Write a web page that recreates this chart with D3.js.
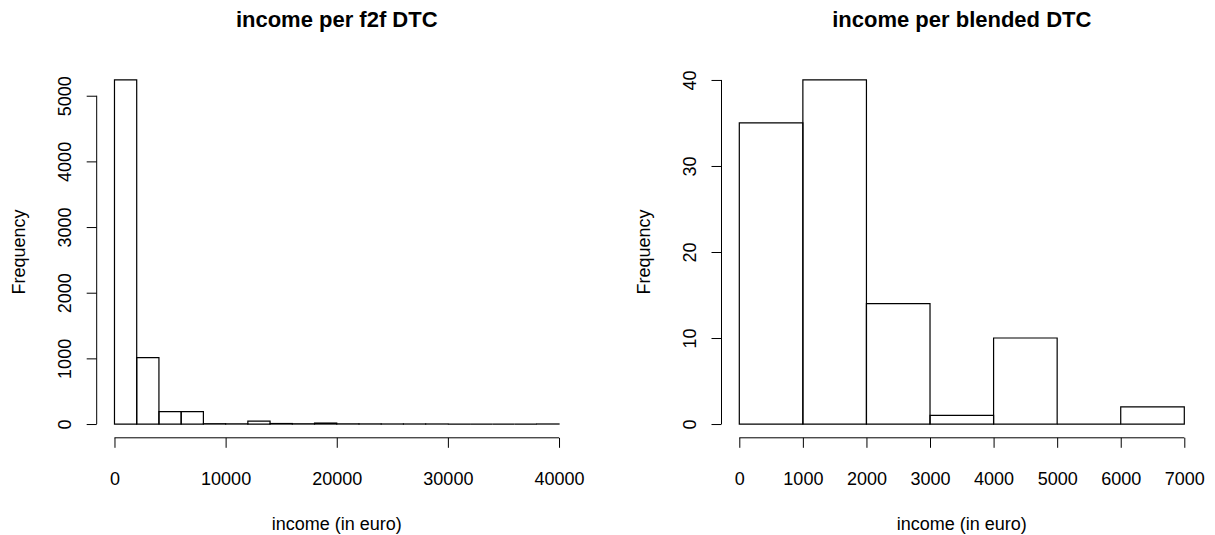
<!DOCTYPE html>
<html>
<head>
<meta charset="utf-8">
<script src="https://cdn.jsdelivr.net/npm/d3@7"></script>
<style>
  html, body { margin: 0; padding: 0; background: #fff; }
  svg { display: block; font-family: "Liberation Sans", Arial, Helvetica, sans-serif; }
</style>
</head>
<body>
<svg id="chart" width="1215" height="535"></svg>
<script>
// Histogram of income per face-to-face DTC (bins of 2000 euro)
const f2fBreaks = d3.range(0, 40001, 2000);
const f2fCounts = [5240, 1010, 190, 190, 5, 3, 45, 8, 4, 15, 3, 2, 1, 1, 1, 0, 0, 0, 0, 1];
const f2fXTicks = [0, 10000, 20000, 30000, 40000];
const f2fYTicks = [0, 1000, 2000, 3000, 4000, 5000];

// Histogram of income per blended DTC (bins of 1000 euro)
const blendedBreaks = d3.range(0, 7001, 1000);
const blendedCounts = [35, 40, 14, 1, 10, 0, 2];
const blendedXTicks = [0, 1000, 2000, 3000, 4000, 5000, 6000, 7000];
const blendedYTicks = [0, 10, 20, 30, 40];

const titles = ["income per f2f DTC", "income per blended DTC"];
const xLabel = "income (in euro)";
const yLabel = "Frequency";

const svg = d3.select("#chart");

function histogram(opts) {
  const { left, right, top, bottom, breaks, counts, xTicks, yTicks, title } = opts;
  const g = svg.append("g");

  // base-graphics style 4% padding around the data range
  const x0 = breaks[0], x1 = breaks[breaks.length - 1];
  const yMax = d3.max(counts);
  const padX = (x1 - x0) * 0.04, padY = yMax * 0.04;
  const x = d3.scaleLinear().domain([x0 - padX, x1 + padX]).range([left, right]);
  const y = d3.scaleLinear().domain([-padY, yMax + padY]).range([bottom, top]);

  // bars (paths so that empty bins still show as a line on the baseline)
  g.append("g")
    .selectAll("path")
    .data(counts)
    .join("path")
    .attr("d", (c, i) => {
      const xa = x(breaks[i]), xb = x(breaks[i + 1]);
      const ya = y(0), yb = y(c);
      return `M${xa},${ya}H${xb}V${yb}H${xa}Z`;
    })
    .attr("fill", "none")
    .attr("stroke", "#000")
    .attr("stroke-width", 1.2);

  // x axis
  const xAxis = g.append("g")
    .attr("transform", `translate(0,${bottom})`)
    .call(d3.axisBottom(x).tickValues(xTicks).tickSize(10).tickPadding(24.5).tickFormat(d3.format("d")));
  xAxis.select(".domain").remove();
  xAxis.append("path")
    .attr("d", `M${x(xTicks[0])},0H${x(xTicks[xTicks.length - 1])}`)
    .attr("stroke", "#000");
  xAxis.selectAll("text").attr("font-size", 18).attr("fill", "#000").attr("font-family", null);
  xAxis.selectAll(".tick line").attr("stroke", "#000");
  xAxis.attr("font-family", null);

  // y axis with vertical tick labels
  const yAxis = g.append("g")
    .attr("transform", `translate(${left},0)`)
    .call(d3.axisLeft(y).tickValues(yTicks).tickSize(10).tickFormat(d3.format("d")));
  yAxis.select(".domain").remove();
  yAxis.append("path")
    .attr("d", `M0,${y(yTicks[0])}V${y(yTicks[yTicks.length - 1])}`)
    .attr("stroke", "#000");
  yAxis.selectAll(".tick line").attr("stroke", "#000");
  yAxis.attr("font-family", null);
  yAxis.selectAll("text")
    .attr("x", null)
    .attr("dy", null)
    .attr("text-anchor", "middle")
    .attr("transform", "translate(-26,0) rotate(-90)")
    .attr("font-size", 18)
    .attr("fill", "#000");

  const cx = (left + right) / 2;
  const cy = (top + bottom) / 2;

  g.append("text")
    .attr("x", cx).attr("y", 27)
    .attr("text-anchor", "middle")
    .attr("font-size", 22)
    .attr("font-weight", "bold")
    .text(title);

  g.append("text")
    .attr("x", cx).attr("y", 530)
    .attr("text-anchor", "middle")
    .attr("font-size", 18)
    .text(xLabel);

  g.append("text")
    .attr("transform", `translate(${left - 71.5},${cy}) rotate(-90)`)
    .attr("text-anchor", "middle")
    .attr("font-size", 18)
    .text(yLabel);
}

histogram({
  left: 96.7, right: 576.8, top: 66.2, bottom: 437.8,
  breaks: f2fBreaks, counts: f2fCounts,
  xTicks: f2fXTicks, yTicks: f2fYTicks, title: titles[0]
});

histogram({
  left: 721.5, right: 1202.1, top: 66.2, bottom: 437.8,
  breaks: blendedBreaks, counts: blendedCounts,
  xTicks: blendedXTicks, yTicks: blendedYTicks, title: titles[1]
});
</script>
</body>
</html>
